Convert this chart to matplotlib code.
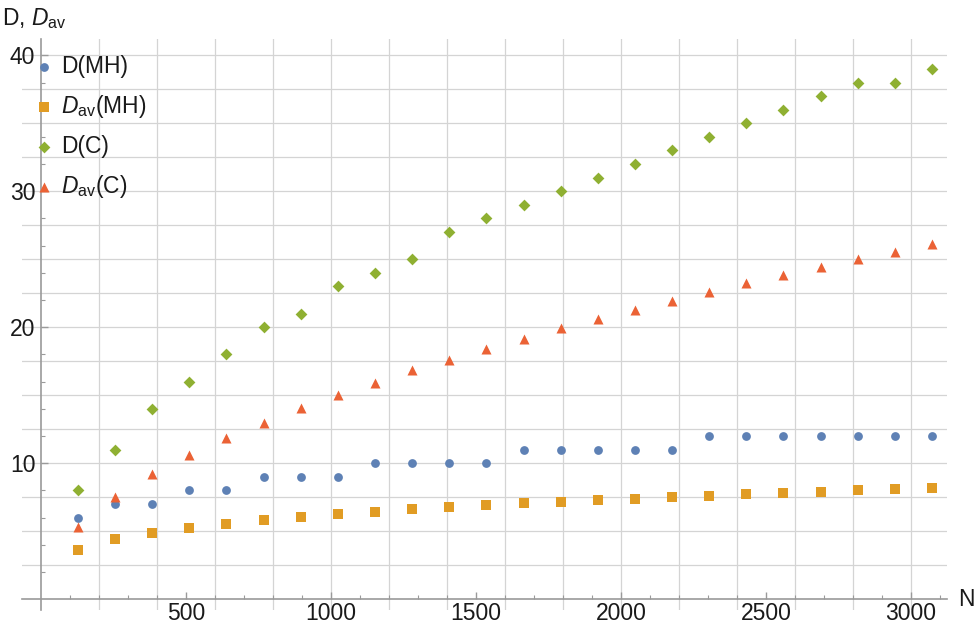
import numpy as np
import matplotlib
matplotlib.use("Agg")
import matplotlib.pyplot as plt

plt.rcParams['font.family'] = ['Liberation Sans', 'DejaVu Sans']
plt.rcParams['mathtext.fontset'] = 'custom'
plt.rcParams['mathtext.rm'] = 'Liberation Sans'
plt.rcParams['mathtext.it'] = 'Liberation Sans:italic'

# Network sizes
n_values = [128, 256, 384, 512, 640, 768, 896, 1024, 1152, 1280, 1408, 1536,
            1664, 1792, 1920, 2048, 2176, 2304, 2432, 2560, 2688, 2816, 2944, 3072]

# Diameter and average distance, MH construction
d_mh = [6, 7, 7, 8, 8, 9, 9, 9, 10, 10, 10, 10,
        11, 11, 11, 11, 11, 12, 12, 12, 12, 12, 12, 12]
dav_mh = [3.62, 4.42, 4.84, 5.22, 5.51, 5.81, 6.01, 6.23, 6.41, 6.6, 6.8, 6.89,
          7.06, 7.16, 7.26, 7.38, 7.5, 7.6, 7.75, 7.82, 7.9, 8.0, 8.1, 8.2]

# Diameter and average distance, C construction
d_c = [8, 11, 14, 16, 18, 20, 21, 23, 24, 25, 27, 28,
       29, 30, 31, 32, 33, 34, 35, 36, 37, 38, 38, 39]
dav_c = [5.27, 7.48, 9.17, 10.61, 11.86, 12.97, 14.05, 15.0, 15.93, 16.84, 17.6, 18.4,
         19.17, 19.95, 20.59, 21.3, 21.96, 22.6, 23.24, 23.85, 24.4, 25.0, 25.54, 26.1]

labels = ["D(MH)", r"$D_{\mathrm{av}}$(MH)", "D(C)", r"$D_{\mathrm{av}}$(C)"]
colors = ["#5E81B5", "#E19C24", "#8FB032", "#EB6235"]

FS = 16.5
TXT = "#1a1a1a"

W, H = 974, 630
fig = plt.figure(figsize=(W / 100, H / 100), dpi=100)

# axes box in pixel terms
left_px, right_px, top_px, bottom_px = 22, 947, 39, 610
ax = fig.add_axes([left_px / W, (H - bottom_px) / H,
                   (right_px - left_px) / W, (bottom_px - top_px) / H])
ax.set_xlim(-65, 3124)
ax.set_ylim(-0.8, 41.2)

grid_kw = dict(color="#d4d4d4", lw=0.9, zorder=0)
for gx in np.arange(200, 3001, 200):
    ax.axvline(gx, **grid_kw)
for gy in np.arange(2.5, 40.01, 2.5):
    ax.axhline(gy, **grid_kw)

for side in ("top", "right"):
    ax.spines[side].set_visible(False)
ax.spines["left"].set_position(("data", 0))
ax.spines["bottom"].set_position(("data", 0))
for side in ("left", "bottom"):
    ax.spines[side].set_color("#9a9a9a")
    ax.spines[side].set_linewidth(1.2)
    ax.spines[side].set_zorder(1)

ax.set_xticks([500, 1000, 1500, 2000, 2500, 3000])
ax.set_xticks(np.arange(100, 3101, 100), minor=True)
ax.set_yticks([10, 20, 30, 40])
ax.set_yticks(np.arange(2, 41, 2), minor=True)
ax.tick_params(which="both", direction="in", color="#9a9a9a", labelsize=FS,
               labelcolor=TXT)
ax.tick_params(which="major", length=5, width=1)
ax.tick_params(which="minor", length=3, width=0.8)
ax.tick_params(axis="x", which="major", pad=2)
ax.tick_params(axis="y", which="major", pad=4)

ax.scatter(n_values, d_mh, s=40, marker="o", color=colors[0], label=labels[0],
           linewidths=0, zorder=3)
ax.scatter(n_values, dav_mh, s=46, marker="s", color=colors[1], label=labels[1],
           linewidths=0, zorder=3)
ax.scatter(n_values, d_c, s=36, marker="D", color=colors[2], label=labels[2],
           linewidths=0, zorder=3)
ax.scatter(n_values, dav_c, s=52, marker="^", color=colors[3], label=labels[3],
           linewidths=0, zorder=3)

leg = ax.legend(loc="upper left", bbox_to_anchor=(35 / W, 1 - 55 / H),
                bbox_transform=fig.transFigure, frameon=False, fontsize=FS,
                handlelength=0.75, handletextpad=0.4, labelspacing=0.66,
                borderpad=0, borderaxespad=0, scatterpoints=1)
for t in leg.get_texts():
    t.set_color(TXT)

ax.annotate("N", xy=(1, 0), xycoords=("axes fraction", "data"),
            xytext=(11, 0), textcoords="offset pixels",
            ha="left", va="center", fontsize=FS, color=TXT)
fig.text(2 / W, 1 - 19 / H, r"D, $D_{\mathrm{av}}$", ha="left", va="center",
         fontsize=FS, color=TXT)

fig.savefig("out.png", dpi=100)
